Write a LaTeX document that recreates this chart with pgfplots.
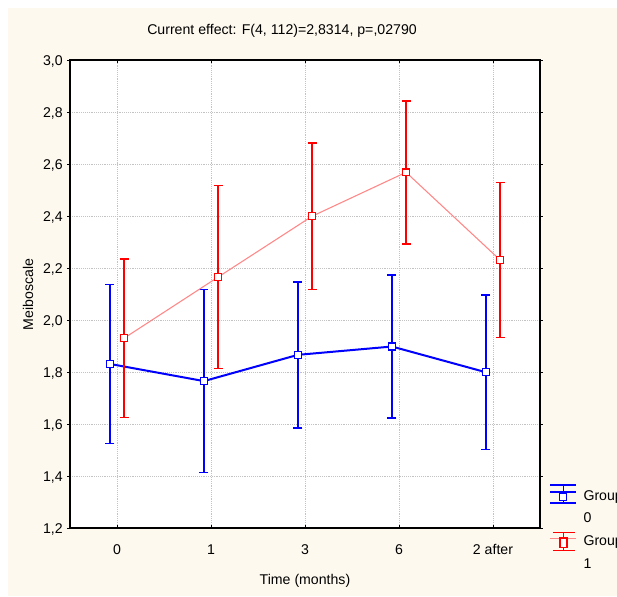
\documentclass[border=0pt]{standalone}
\usepackage{fontspec}
\setmainfont{Liberation Sans}
\usepackage{pgfplots}
\usepackage{pgfplotstable}
\pgfplotsset{compat=1.18}

\definecolor{bgcream}{RGB}{253,249,238}
\definecolor{gblue}{RGB}{0,0,255}
\definecolor{gred}{RGB}{255,0,0}
\definecolor{gpink}{RGB}{255,135,135}
\definecolor{gridgray}{RGB}{195,195,195}
\newcommand{\fs}{\fontsize{10.6}{12.7}\selectfont}

% means per time point, error = half-width of the interval
\pgfplotstableread{
x g0 g1 e
0 1.831 1.930 0.305
1 1.765 2.165 0.352
2 1.866 2.399 0.281
3 1.898 2.568 0.275
4 1.799 2.231 0.298
}\meibo

\begin{document}
\begin{tikzpicture}
\begin{scope}[x=0.75pt,y=0.75pt]
  \useasboundingbox (0,0) rectangle (617,596);
  \fill[white] (0,0) rectangle (617,596);
  \fill[bgcream] (8,0) rectangle (617,588);
\end{scope}
\clip (0pt,0pt) rectangle (462.75pt,447pt);
\begin{axis}[
  at={(52.5pt,51pt)}, anchor=south west,
  scale only axis, width=352.5pt, height=351pt,
  xmin=-0.5, xmax=4.5, ymin=1.2, ymax=3.0,
  xtick={0,1,2,3,4}, xticklabels={0,1,3,6,2 after},
  ytick={1.2,1.4,1.6,1.8,2.0,2.2,2.4,2.6,2.8,3.0},
  /pgf/number format/assume math mode=true,
  yticklabel style={/pgf/number format/fixed, /pgf/number format/fixed zerofill,
    /pgf/number format/precision=1, /pgf/number format/use comma,
    anchor=base east, inner sep=0pt, yshift=-3.8pt, xshift=-3pt},
  xticklabel style={anchor=base, yshift=-19.5pt},
  tick label style={font=\fs},
  xtick align=inside, ytick align=outside,
  major tick length=2.25pt,
  tick style={black, line width=0.6pt},
  axis line style={line width=1pt},
  axis background/.style={fill=white},
  grid=major, grid style={gridgray, densely dotted, line width=0.5pt},
  legend style={at={(1.0213,0.0797)}, anchor=north west, draw=none, fill=none,
    inner sep=0pt, outer sep=0pt, row sep=10pt, column sep=5.25pt,
    nodes={inner sep=0pt, text height=7pt, text depth=0pt, font=\fs}},
  legend cell align=left,
  clip=false,
]
\addplot[forget plot, gblue, line width=1.5pt, mark=square*, mark size=2.6pt,
  mark options={fill=white, line width=1pt, solid},
  error bars/.cd, y dir=both, y explicit,
  error bar style={line width=1.1pt, gblue},
  error mark options={rotate=90, gblue, line width=1.1pt, mark size=3.4pt}]
  table[x expr=\thisrow{x}-0.075, y=g0, y error=e]{\meibo};
\addplot[forget plot, gpink, line width=0.8pt, mark=square*, mark size=2.6pt,
  mark options={gred, fill=white, line width=1pt, solid},
  error bars/.cd, y dir=both, y explicit,
  error bar style={line width=1.1pt, gred},
  error mark options={rotate=90, gred, line width=1.1pt, mark size=3.4pt}]
  table[x expr=\thisrow{x}+0.075, y=g1, y error=e]{\meibo};

\addlegendimage{legend image code/.code={
  \path (0pt,0pt) (19.5pt,0pt);
  \begin{scope}[overlay, yshift=-3.5pt]
    \draw[gblue, line width=1.1pt] (0pt,11.25pt) -- (19.5pt,11.25pt)
      (0pt,-2.25pt) -- (19.5pt,-2.25pt) (9.75pt,11.25pt) -- (9.75pt,-2.25pt);
    \draw[gblue, line width=1.5pt] (0pt,6pt) -- (19.5pt,6pt);
    \draw[gblue, fill=white, line width=1pt] (7.15pt,-0.35pt) rectangle (12.35pt,4.85pt);
  \end{scope}}}
\addlegendentry{Group}
\addlegendimage{empty legend}
\addlegendentry{0}
\addlegendimage{legend image code/.code={
  \path (0pt,0pt) (19.5pt,0pt);
  \begin{scope}[overlay, yshift=-3.5pt]
    \draw[gred, line width=1.1pt] (2pt,9.5pt) -- (18.5pt,9.5pt)
      (2pt,-3.75pt) -- (18.5pt,-3.75pt) (10pt,9.5pt) -- (10pt,-3.75pt);
    \draw[gpink, line width=0.8pt] (0pt,5.2pt) -- (19pt,5.2pt);
    \draw[gred, fill=white, line width=1pt] (7.4pt,-1.8pt) rectangle (12.6pt,5.6pt);
  \end{scope}}}
\addlegendentry{Group}
\addlegendimage{empty legend}
\addlegendentry{1}
\end{axis}
\begin{scope}[x=0.75pt,y=0.75pt]
  \node[anchor=base, font=\fs, inner sep=0pt] at (282,561) {Current effect: F(4, 112)=2,8314, p=,02790};
  \node[anchor=base, font=\fs, inner sep=0pt] at (305,12) {Time (months)};
  \node[anchor=base, rotate=90, font=\fs, inner sep=0pt] at (33,301.5) {Meiboscale};
\end{scope}
\end{tikzpicture}
\end{document}
